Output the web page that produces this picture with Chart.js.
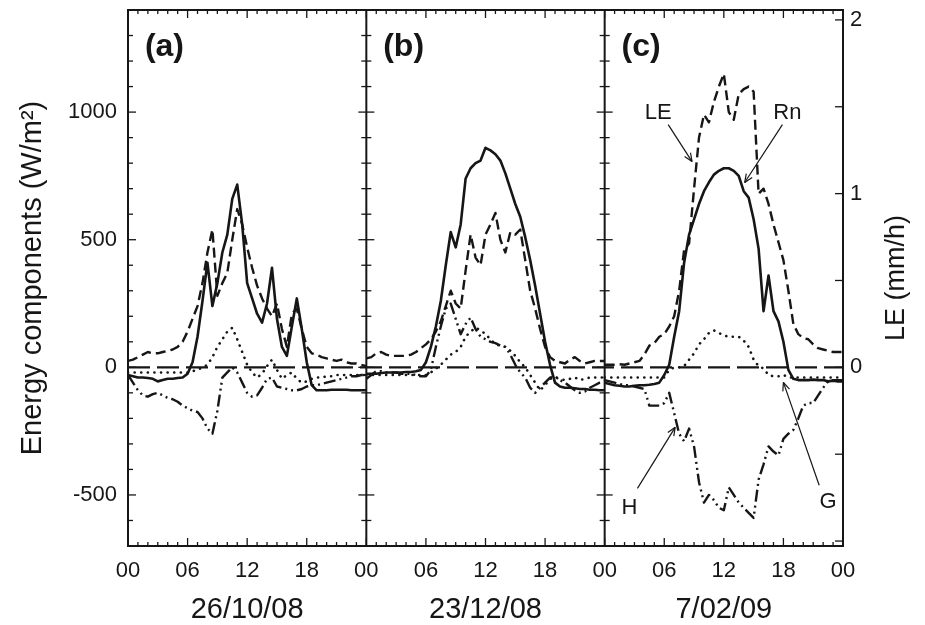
<!DOCTYPE html>
<html>
<head>
<meta charset="utf-8">
<script src="https://cdn.jsdelivr.net/npm/chart.js@4.4.0/dist/chart.umd.min.js"></script>
<style>
  html, body { margin: 0; padding: 0; background: #fff; }
  #wrap { width: 925px; height: 625px; }
</style>
</head>
<body>
<div id="wrap"><canvas id="chart" width="925" height="625"></canvas></div>
<script>
// half-hourly values, 00:00 .. 24:00 (49 per day), W/m2
const step = 0.5;
const dayLabels = ['26/10/08', '23/12/08', '7/02/09'];
const panelLabels = ['(a)', '(b)', '(c)'];

const rnA = [-30,-35,-40,-40,-42,-45,-55,-50,-45,-45,-42,-40,-25,20,120,260,410,240,330,450,520,660,716,560,330,270,210,175,250,390,190,80,45,160,270,150,20,-70,-90,-90,-90,-88,-88,-88,-88,-90,-90,-90,-90];
const leA = [25,30,40,50,60,55,55,60,65,70,80,100,140,190,240,330,450,540,280,330,370,500,620,560,470,390,320,270,230,200,250,150,80,210,230,150,80,55,50,40,35,30,25,30,20,15,15,10,5];
const hA  = [-30,-60,-90,-110,-115,-105,-100,-110,-120,-125,-135,-150,-160,-170,-175,-200,-240,-260,-170,-40,-20,0,-20,-60,-100,-115,-110,-80,-45,-40,-75,-80,-85,-90,-90,-85,-75,-70,-70,-65,-60,-55,-50,-45,-40,-35,-35,-30,-30];
const gA  = [-20,-20,-20,-20,-20,-20,-20,-20,-20,-20,-20,-20,-20,-15,-10,0,10,40,80,110,140,155,110,60,10,-20,-40,-25,5,30,-10,-45,-30,-20,-45,-60,-55,-45,-40,-40,-35,-35,-30,-30,-30,-30,-30,-30,-30];

const rnB = [-25,-25,-25,-22,-20,-20,-20,-20,-18,-18,-15,-10,20,80,160,260,400,530,470,560,740,780,800,810,860,850,835,810,760,700,640,590,510,420,320,210,100,10,-60,-75,-80,-80,-82,-85,-85,-88,-88,-90,-90];
const leB = [35,40,55,60,50,45,45,45,45,50,60,75,90,110,140,180,240,300,250,230,380,520,430,400,520,560,605,500,450,530,520,540,420,300,230,150,80,40,25,20,15,30,40,25,15,20,25,25,25];
const hB  = [-45,-30,-15,-15,-20,-20,-20,-25,-25,-25,-30,-35,-35,-10,80,160,230,250,190,130,170,195,150,120,110,100,95,85,80,50,10,-20,-40,-80,-100,-80,-60,-40,-35,-50,-60,-75,-90,-100,-95,-80,-70,-60,-55];
const gB  = [-30,-30,-30,-30,-30,-30,-30,-30,-30,-30,-30,-30,-30,-20,-5,10,30,50,60,80,120,140,155,145,130,110,90,85,80,65,45,20,0,-30,-60,-90,-70,-45,-40,-45,-50,-45,-40,-50,-45,-40,-40,-40,-40];

const rnC = [-60,-65,-70,-72,-75,-75,-72,-70,-70,-68,-65,-60,-30,10,120,220,410,520,580,640,690,725,755,770,780,780,770,750,690,665,580,465,220,360,220,180,100,-10,-45,-50,-50,-50,-48,-50,-50,-55,-52,-55,-55];
const leC = [10,10,10,12,10,15,20,25,50,85,95,120,130,160,200,300,460,485,700,900,990,960,1040,1100,1150,1000,970,1070,1090,1100,1080,680,700,640,560,490,420,300,170,130,115,110,90,75,70,65,60,60,60];
const hC  = [-50,-55,-60,-65,-70,-70,-75,-80,-85,-150,-150,-150,-140,-100,-180,-260,-290,-240,-310,-450,-530,-500,-520,-550,-560,-470,-500,-530,-550,-570,-590,-440,-380,-310,-330,-345,-280,-260,-245,-200,-150,-140,-140,-110,-80,-55,-50,-50,-50];
const gC  = [-40,-40,-40,-40,-40,-40,-40,-40,-40,-40,-40,-40,-40,-10,0,0,5,30,55,90,110,135,145,135,125,120,120,120,105,80,30,5,-5,-30,-35,-35,-30,-40,-40,-40,-40,-40,-40,-40,-40,-40,-40,-40,-40];

const xTicks = [0, 6, 12, 18, 24, 30, 36, 42, 48, 54, 60, 66, 72];
const yTicks = [-500, 0, 500, 1000];
const y2Ticks = [0, 1, 2];
const wPerMm = 680.6; // 1 mm/h of evaporation in W/m2

const days = [
  { rn: rnA, le: leA, h: hA, g: gA },
  { rn: rnB, le: leB, h: hB, g: gB },
  { rn: rnC, le: leC, h: hC, g: gC }
];

// join the three days on one 0..72 h axis, with a gap at each day boundary
function series(key) {
  const pts = [];
  days.forEach((d, k) => {
    d[key].forEach((v, i) => pts.push({ x: k * 24 + i * step, y: v }));
    pts.push({ x: k * 24 + 24, y: null });
  });
  return pts;
}

const family = '"Liberation Sans", Arial, Helvetica, sans-serif';
const ink = '#161616';

// labels and arrows in panel (c), in data units
const notes = [
  { text: 'LE', x: 53.4, y: 998, from: [54.4, 951], to: [56.8, 806] },
  { text: 'Rn', x: 66.4, y: 998, from: [65.9, 951], to: [62.1, 724] },
  { text: 'H',  x: 50.5, y: -552, from: [51.3, -474], to: [55.1, -235] },
  { text: 'G',  x: 70.5, y: -528, from: [69.6, -462], to: [66.0, -59] }
];

const framePlugin = {
  id: 'frame',
  afterDraw(chart) {
    const { ctx, chartArea: a, scales: { x, y, y2 } } = chart;
    const seg = (x1, y1, x2, y2_) => { ctx.beginPath(); ctx.moveTo(x1, y1); ctx.lineTo(x2, y2_); ctx.stroke(); };
    ctx.save();
    ctx.strokeStyle = ink;
    ctx.fillStyle = ink;

    // inward ticks
    ctx.lineWidth = 1.3;
    for (let v = -700; v <= 1400; v += 100) {
      const py = y.getPixelForValue(v);
      const len = v % 500 === 0 ? 8 : 5;
      [0, 24, 48].forEach(p => { const px = x.getPixelForValue(p); seg(px, py, px + len, py); });
      [24, 48].forEach(p => { const px = x.getPixelForValue(p); seg(px, py, px - len, py); });
    }
    for (let v = -1; v <= 2; v += 0.5) {
      const py = y2.getPixelForValue(v);
      if (py < a.top || py > a.bottom) continue;
      seg(a.right, py, a.right - 8, py);
    }
    for (let h = 0; h <= 72; h++) {
      const px = x.getPixelForValue(h);
      const len = h % 6 === 0 ? 8 : 4;
      seg(px, a.bottom, px, a.bottom - len);
      seg(px, a.top, px, a.top + len);
    }

    // frame and day dividers
    ctx.lineWidth = 2;
    ctx.strokeRect(a.left, a.top, a.right - a.left, a.bottom - a.top);
    [24, 48].forEach(v => { const px = x.getPixelForValue(v); seg(px, a.top, px, a.bottom); });

    // panel letters and dates
    ctx.textBaseline = 'middle';
    ctx.textAlign = 'left';
    ctx.font = 'bold 32px ' + family;
    panelLabels.forEach((t, k) => ctx.fillText(t, x.getPixelForValue(k * 24 + 1.7), 47));
    ctx.textAlign = 'center';
    ctx.font = '29px ' + family;
    dayLabels.forEach((t, k) => ctx.fillText(t, x.getPixelForValue(k * 24 + 12), 610));

    // axis titles, reading upwards
    const midY = (a.top + a.bottom) / 2;
    [[33, 'Energy components (W/m²)', 29], [897, 'LE (mm/h)', 27]].forEach(([tx, t, size]) => {
      ctx.save();
      ctx.translate(tx, midY);
      ctx.rotate(-Math.PI / 2);
      ctx.font = size + 'px ' + family;
      ctx.fillText(t, 0, 0);
      ctx.restore();
    });

    // annotations with open arrowheads
    ctx.font = '22px ' + family;
    ctx.lineWidth = 1.2;
    notes.forEach(n => {
      ctx.fillText(n.text, x.getPixelForValue(n.x), y.getPixelForValue(n.y));
      const x1 = x.getPixelForValue(n.from[0]), y1 = y.getPixelForValue(n.from[1]);
      const x2 = x.getPixelForValue(n.to[0]), y2p = y.getPixelForValue(n.to[1]);
      seg(x1, y1, x2, y2p);
      const ang = Math.atan2(y2p - y1, x2 - x1);
      [0.4, -0.4].forEach(d => seg(x2, y2p, x2 - 9 * Math.cos(ang + d), y2p - 9 * Math.sin(ang + d)));
    });
    ctx.restore();
  }
};

const lineDefaults = { borderColor: ink, borderWidth: 2.4, pointRadius: 0, fill: false, spanGaps: false };
const noPad = s => { s.paddingTop = 0; s.paddingBottom = 0; s.paddingLeft = 0; s.paddingRight = 0; };

new Chart(document.getElementById('chart'), {
  type: 'line',
  data: {
    datasets: [
      { ...lineDefaults, label: 'zero', data: [{ x: 0, y: 0 }, { x: 72, y: 0 }], borderDash: [22, 7] },
      { ...lineDefaults, label: 'G', data: series('g'), borderWidth: 2.6, borderDash: [0.1, 6.5], borderCapStyle: 'round' },
      { ...lineDefaults, label: 'H', data: series('h'), borderDash: [12, 4, 2, 4, 2, 4] },
      { ...lineDefaults, label: 'LE', data: series('le'), borderDash: [10, 5] },
      { ...lineDefaults, label: 'Rn', data: series('rn'), borderWidth: 2.6 }
    ]
  },
  options: {
    responsive: false,
    animation: false,
    layout: { padding: { top: 10, left: 0, right: 0, bottom: 0 } },
    plugins: { legend: { display: false }, tooltip: { enabled: false } },
    elements: { line: { tension: 0, borderJoinStyle: 'round' } },
    scales: {
      x: {
        type: 'linear', min: 0, max: 72,
        grid: { display: false, drawTicks: false }, border: { display: false },
        afterBuildTicks: s => { s.ticks = xTicks.map(v => ({ value: v })); },
        afterFit: s => { s.height = 79; noPad(s); },
        ticks: {
          padding: 12, maxRotation: 0, autoSkip: false, color: ink,
          font: { size: 22, family: family },
          callback: v => String(v % 24).padStart(2, '0')
        }
      },
      y: {
        type: 'linear', position: 'left', min: -700, max: 1400,
        grid: { display: false, drawTicks: false }, border: { display: false },
        afterBuildTicks: s => { s.ticks = yTicks.map(v => ({ value: v })); },
        afterFit: s => { s.width = 128; noPad(s); },
        ticks: { padding: 11, color: ink, font: { size: 22, family: family }, callback: v => String(v) }
      },
      y2: {
        type: 'linear', position: 'right', min: -700 / wPerMm, max: 1400 / wPerMm,
        grid: { display: false, drawTicks: false }, border: { display: false },
        afterBuildTicks: s => { s.ticks = y2Ticks.map(v => ({ value: v })); },
        afterFit: s => { s.width = 82; noPad(s); },
        ticks: { padding: 7, color: ink, font: { size: 22, family: family }, callback: v => String(v) }
      }
    }
  },
  plugins: [framePlugin]
});
</script>
</body>
</html>
